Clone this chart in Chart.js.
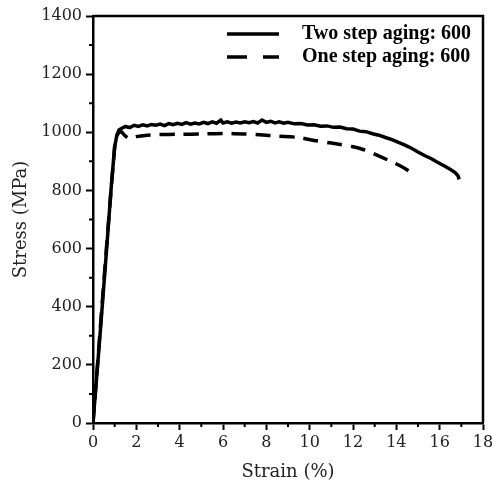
<!DOCTYPE html>
<html>
<head>
<meta charset="utf-8">
<script src="https://cdn.jsdelivr.net/npm/chart.js@4.4.1/dist/chart.umd.min.js"></script>
<style>
  html, body { margin: 0; padding: 0; background: #fff; }
  #wrap { width: 492px; height: 490px; }
</style>
</head>
<body>
<div id="wrap"><canvas id="stressStrain"></canvas></div>
<script>
// Two step aging: 600 (solid)
const twoStepStrain = [0, 0.3, 0.6, 0.85, 1.0, 1.1, 1.2, 1.35, 1.5, 1.7, 1.9, 2.1, 2.3, 2.5, 2.7, 2.9, 3.1, 3.3, 3.5, 3.7, 3.9,
    4.1, 4.3, 4.5, 4.7, 4.9, 5.1, 5.3, 5.5, 5.7, 5.9, 6.0, 6.2, 6.4, 6.6, 6.8, 7.0, 7.2, 7.4, 7.6, 7.8, 8.0, 8.2, 8.4,
    8.6, 8.8, 9.0, 9.3, 9.6, 9.9, 10.2, 10.5, 10.8, 11.1, 11.4, 11.7, 12.0, 12.3, 12.6, 12.9, 13.2, 13.5, 13.8, 14.1,
    14.4, 14.7, 15.0, 15.3, 15.6, 15.9, 16.2, 16.5, 16.7, 16.85, 16.9];
const twoStepStress = [0, 280, 570, 820, 950, 990, 1008, 1015, 1020, 1016, 1024, 1020, 1026, 1022, 1027, 1024, 1028, 1023, 1030, 1026, 1031,
    1027, 1033, 1028, 1032, 1029, 1034, 1030, 1036, 1031, 1042, 1032, 1036, 1031, 1035, 1032, 1036, 1033, 1037, 1032, 1042, 1034, 1038, 1032,
    1036, 1031, 1034, 1029, 1030, 1025, 1026, 1021, 1022, 1017, 1018, 1012, 1011, 1004, 1002, 995, 990, 982, 975, 965,
    956, 945, 932, 920, 910, 897, 885, 872, 862, 850, 838];

// One step aging: 600 (dashed)
const oneStepStrain = [0, 1.0, 1.15, 1.3, 1.45, 1.7, 2.0, 2.5, 3.0, 4.0, 5.0, 6.0, 7.0, 8.0, 8.5, 9.5, 10.2, 11.0, 12.0, 12.5, 13.0, 13.6, 14.3, 14.9];
const oneStepStress = [0, 950, 995, 1002, 990, 978, 985, 990, 992, 993, 994, 996, 994, 990, 987, 982, 972, 963, 950, 940, 925, 905, 880, 850];

const seriesNames = ["Two step aging: 600", "One step aging: 600"];
const xTicks = [0, 2, 4, 6, 8, 10, 12, 14, 16, 18];
const yTicks = [0, 200, 400, 600, 800, 1000, 1200, 1400];

function toPoints(xs, ys) {
    const pts = [];
    for (let i = 0; i < xs.length; i++) pts.push({ x: xs[i], y: ys[i] });
    return pts;
}

const tickFont = { family: "DejaVu Serif", size: 16 };
const titleFont = { family: "DejaVu Serif", size: 18 };

// frame, minor ticks and legend inside the plot
const framePlugin = {
    id: 'frame',
    afterDraw(chart) {
        const ctx = chart.ctx;
        const a = chart.chartArea;
        const xs = chart.scales.x, ys = chart.scales.y;
        ctx.save();
        ctx.strokeStyle = '#000';
        ctx.lineWidth = 2.5;
        ctx.beginPath();
        ctx.moveTo(a.left, a.top);
        ctx.lineTo(a.right, a.top);
        ctx.lineTo(a.right, a.bottom);
        ctx.stroke();

        ctx.lineWidth = 2;
        ctx.beginPath();
        for (let v = 1; v < 18; v += 2) {
            const px = xs.getPixelForValue(v);
            ctx.moveTo(px, a.bottom);
            ctx.lineTo(px, a.bottom + 4);
        }
        for (let v = 100; v < 1400; v += 200) {
            const py = ys.getPixelForValue(v);
            ctx.moveTo(a.left, py);
            ctx.lineTo(a.left - 4, py);
        }
        ctx.stroke();

        // legend
        const rows = [34, 57];
        ctx.font = "bold 20px 'Liberation Serif'";
        ctx.fillStyle = '#000';
        ctx.textBaseline = 'middle';
        chart.data.datasets.forEach((ds, i) => {
            const y = rows[i];
            ctx.lineWidth = 3.5;
            ctx.setLineDash(i === 1 ? [20, 16] : []);
            ctx.beginPath();
            ctx.moveTo(227, y);
            ctx.lineTo(279, y);
            ctx.stroke();
            ctx.setLineDash([]);
            ctx.fillText(ds.label, 302, y);
        });
        ctx.restore();
    }
};

new Chart(document.getElementById('stressStrain'), {
    type: 'scatter',
    data: {
        datasets: [
            {
                label: seriesNames[0],
                data: toPoints(twoStepStrain, twoStepStress),
                showLine: true,
                borderColor: '#000',
                borderWidth: 3.5,
                pointRadius: 0,
                tension: 0
            },
            {
                label: seriesNames[1],
                data: toPoints(oneStepStrain, oneStepStress),
                showLine: true,
                borderColor: '#000',
                borderWidth: 3.5,
                borderDash: [15, 9],
                pointRadius: 0,
                tension: 0.3
            }
        ]
    },
    options: {
        responsive: true,
        maintainAspectRatio: false,
        animation: false,
        layout: { padding: { top: 16, right: 9, left: 0, bottom: 0 } },
        plugins: { legend: { display: false }, tooltip: { enabled: false } },
        scales: {
            x: {
                type: 'linear',
                min: 0, max: 18,
                afterBuildTicks: s => { s.ticks = xTicks.map(v => ({ value: v })); },
                afterFit: s => { s.height = 67; s.paddingRight = 0; s.paddingLeft = 0; },
                border: { color: '#000', width: 2.5 },
                grid: { drawOnChartArea: false, color: '#000', tickLength: 7, tickWidth: 2 },
                ticks: { color: '#222', font: tickFont, padding: 3, maxRotation: 0, callback: v => String(v) },
                title: { display: true, text: 'Strain (%)', color: '#222', font: titleFont, padding: { top: 4, bottom: 7 } }
            },
            y: {
                type: 'linear',
                min: 0, max: 1400,
                afterBuildTicks: s => { s.ticks = yTicks.map(v => ({ value: v })); },
                afterFit: s => { s.width = 93; s.paddingTop = 0; s.paddingBottom = 0; },
                border: { color: '#000', width: 2.5 },
                grid: { drawOnChartArea: false, color: '#000', tickLength: 7, tickWidth: 2 },
                ticks: { color: '#222', font: tickFont, padding: 4, callback: v => String(v) },
                title: { display: true, text: 'Stress (MPa)', color: '#222', font: titleFont, padding: { top: 11, bottom: 0 } }
            }
        }
    },
    plugins: [framePlugin]
});
</script>
</body>
</html>
